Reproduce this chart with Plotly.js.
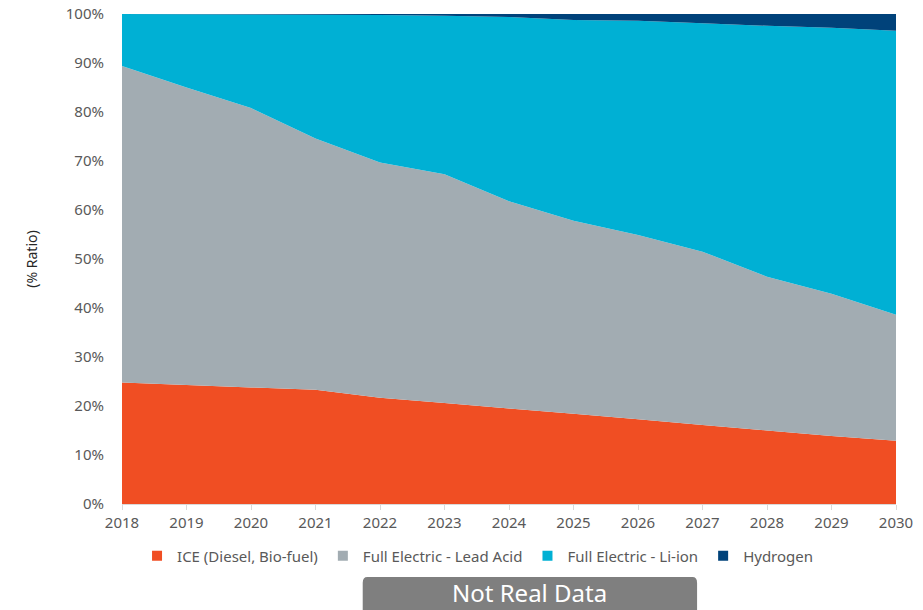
<!DOCTYPE html>
<html>
<head>
<meta charset="utf-8">
<script src="https://cdn.plot.ly/plotly-3.0.1.min.js"></script>
<style>html,body{margin:0;padding:0;background:#fff;}#chart{width:923px;height:610px;}</style>
</head>
<body>
<div id="chart"></div>
<script>
const years = [2018,2019,2020,2021,2022,2023,2024,2025,2026,2027,2028,2029,2030];
const iceDiesel = [24.8,24.3,23.8,23.3,21.7,20.6,19.5,18.4,17.3,16.1,15.0,13.9,12.9];
const leadAcid = [64.6,60.7,57.0,51.3,48.0,46.7,42.3,39.4,37.6,35.4,31.4,29.0,25.7];
const liIon = [10.6,14.95,19.1,25.25,30.1,32.35,37.6,41.0,43.7,46.6,51.2,54.3,58.0];
const hydrogen = [0,0.05,0.1,0.15,0.2,0.35,0.6,1.2,1.4,1.9,2.4,2.8,3.4];
const seriesNames = ['ICE (Diesel, Bio-fuel)','Full Electric - Lead Acid','Full Electric - Li-ion','Hydrogen'];
const colors = ['#F04E23','#A2ACB2','#00B0D4','#00427A'];
const seriesVals = [iceDiesel, leadAcid, liIon, hydrogen];

const traces = [];
seriesVals.forEach((v,i)=>{
  traces.push({x:years,y:v,type:'scatter',mode:'none',stackgroup:'one',fillcolor:colors[i],
    line:{width:0},name:seriesNames[i],showlegend:false,hoverinfo:'x+y+name'});
});
seriesVals.forEach((v,i)=>{
  traces.push({x:[null],y:[null],type:'scatter',mode:'markers',name:seriesNames[i],
    marker:{symbol:'square',size:10,color:colors[i]},showlegend:true});
});

const layout = {
  width:923,height:610,
  margin:{l:122,r:27,t:14,b:106},
  paper_bgcolor:'#fff',plot_bgcolor:'#fff',
  font:{family:'"Noto Sans", "Open Sans", sans-serif',color:'#595959',size:15},
  xaxis:{range:[2018,2030],tickvals:years,ticktext:years.map(String),showgrid:false,zeroline:false,
    showline:true,linecolor:'#d9d9d9',linewidth:1,ticks:'outside',ticklen:5,tickcolor:'#d9d9d9',
    tickfont:{size:15,color:'#595959'}},
  yaxis:{range:[0,100],dtick:10,ticksuffix:'%',showgrid:false,zeroline:false,showline:false,
    ticks:'outside',ticklen:14,tickcolor:'rgba(0,0,0,0)',
    tickfont:{size:15,color:'#595959'},
    title:{text:'(% Ratio)',font:{size:14,color:'#262626'},standoff:24}},
  legend:{orientation:'h',x:0.46,xanchor:'center',y:-0.106,yanchor:'middle',
    font:{size:15,color:'#595959'},itemwidth:30,tracegroupgap:0,traceorder:'normal'},
  showlegend:true,
  shapes:[{type:'path',xref:'paper',yref:'paper',
    path:'M 0.317 -0.149 L 0.737 -0.149 Q 0.743 -0.149 0.743 -0.161 L 0.743 -0.22 L 0.311 -0.22 L 0.311 -0.161 Q 0.311 -0.149 0.317 -0.149 Z',
    fillcolor:'#7f7f7f',line:{width:0}}],
  annotations:[{xref:'paper',yref:'paper',x:0.527,y:-0.181,text:'Not Real Data',showarrow:false,
    font:{size:24,color:'#ffffff',family:'"Noto Sans", sans-serif'},xanchor:'center',yanchor:'middle',borderpad:0}]
};
Plotly.newPlot('chart',traces,layout,{displayModeBar:false,staticPlot:true});
</script>
</body>
</html>
